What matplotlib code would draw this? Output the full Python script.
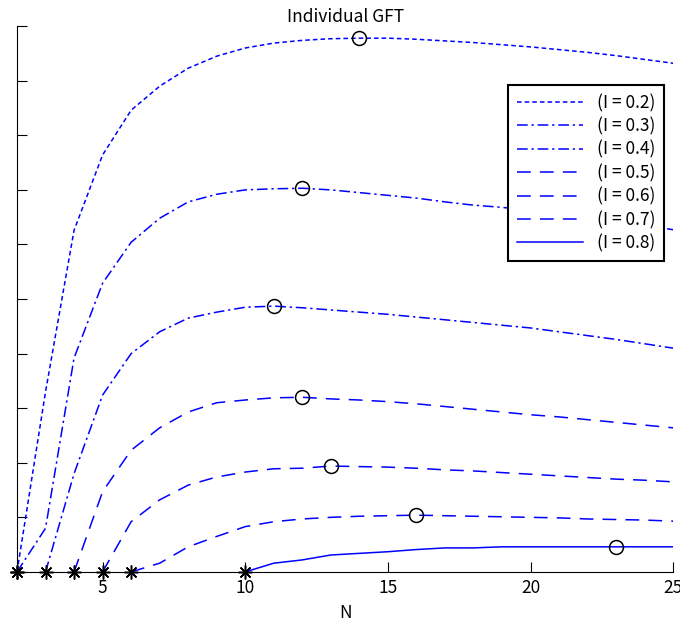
import matplotlib
matplotlib.use('Agg')
import numpy as np
import matplotlib.pyplot as plt

plt.rcParams['font.family'] = ['Noto Sans CJK JP', 'DejaVu Sans']

# values
n_02 = list(range(2, 26))
gft_02 = [0, 3.3, 6.26, 7.64, 8.46, 8.9, 9.23, 9.45, 9.6, 9.69, 9.74, 9.77, 9.78,
          9.78, 9.76, 9.73, 9.7, 9.66, 9.62, 9.57, 9.52, 9.46, 9.39, 9.32]

n_03 = list(range(2, 26))
gft_03 = [0, 0.8, 3.92, 5.29, 6.04, 6.48, 6.78, 6.92, 7.0, 7.02, 7.03, 7.0, 6.95,
          6.9, 6.85, 6.78, 6.72, 6.68, 6.62, 6.55, 6.48, 6.42, 6.35, 6.27]

n_04 = list(range(3, 26))
gft_04 = [0, 1.8, 3.24, 4.0, 4.4, 4.65, 4.76, 4.85, 4.87, 4.84, 4.8, 4.76, 4.72,
          4.67, 4.62, 4.57, 4.52, 4.47, 4.4, 4.33, 4.26, 4.18, 4.1]

n_05 = list(range(4, 26))
gft_05 = [0, 1.47, 2.23, 2.64, 2.93, 3.1, 3.15, 3.19, 3.2, 3.17, 3.15, 3.12, 3.08,
          3.03, 2.98, 2.93, 2.88, 2.84, 2.79, 2.74, 2.69, 2.64]

n_06 = list(range(5, 26))
gft_06 = [0, 0.92, 1.32, 1.59, 1.74, 1.83, 1.89, 1.9, 1.94, 1.93, 1.92, 1.9,
          1.87, 1.85, 1.82, 1.79, 1.76, 1.73, 1.7, 1.68, 1.65]

n_07 = list(range(6, 26))
gft_07 = [0, 0.16, 0.46, 0.65, 0.83, 0.92, 0.97, 1.0, 1.02, 1.03, 1.04, 1.03,
          1.02, 1.01, 1.0, 0.99, 0.97, 0.96, 0.95, 0.93]

n_08 = list(range(10, 26))
gft_08 = [0, 0.16, 0.22, 0.31, 0.34, 0.37, 0.41, 0.44, 0.44, 0.46, 0.46, 0.46,
          0.46, 0.46, 0.46, 0.46]

# N where each curve is marked with a circle (its optimum)
peak_n = [14, 12, 11, 12, 13, 16, 23]

labels = ['(I = 0.2)', '(I = 0.3)', '(I = 0.4)', '(I = 0.5)', '(I = 0.6)', '(I = 0.7)', '(I = 0.8)']
series = [(n_02, gft_02), (n_03, gft_03), (n_04, gft_04), (n_05, gft_05),
          (n_06, gft_06), (n_07, gft_07), (n_08, gft_08)]
styles = [(0, (3, 2)), (0, (7, 2.5, 1.5, 2.5)), (0, (7, 2.5, 1.5, 2.5)),
          (0, (9, 6)), (0, (9, 6)), (0, (9, 6)), '-']

fs = 12.5

fig = plt.figure(figsize=(6.8, 6.23), dpi=100)
ax = fig.add_axes([0.025, 0.082, 0.965, 0.876])

for (n, g), ls, lab in zip(series, styles, labels):
    ax.plot(n, g, color='b', linestyle=ls, linewidth=1.1, label=lab)

for (n, g), pk in zip(series, peak_n):
    i = n.index(pk)
    ax.plot(n[i], g[i], 'o', mfc='none', mec='k', ms=10, mew=1.1)
    ax.plot(n[0], g[0], marker=(8, 2, 0), color='k', ms=10, mew=1.1,
            linestyle='none', clip_on=False, zorder=5)

ax.set_xlim(2, 25)
ax.set_ylim(0, 10)
ax.set_xticks([5, 10, 15, 20, 25])
ax.set_yticks(range(0, 11))
ax.set_yticklabels([])
ax.tick_params(direction='in', length=7, labelsize=fs, pad=5)
ax.spines['top'].set_visible(False)
ax.spines['right'].set_visible(False)
ax.set_title('Individual GFT', fontsize=fs, pad=1)
ax.set_xlabel('N', fontsize=fs, labelpad=5)

leg = ax.legend(loc='upper right', bbox_to_anchor=(0.986, 0.892), fontsize=fs,
                frameon=True, fancybox=False, edgecolor='k', handlelength=3.8,
                labelspacing=0.3, borderpad=0.5, borderaxespad=0, framealpha=1)
leg.get_frame().set_linewidth(1.5)

fig.savefig('out.png', dpi=100)
